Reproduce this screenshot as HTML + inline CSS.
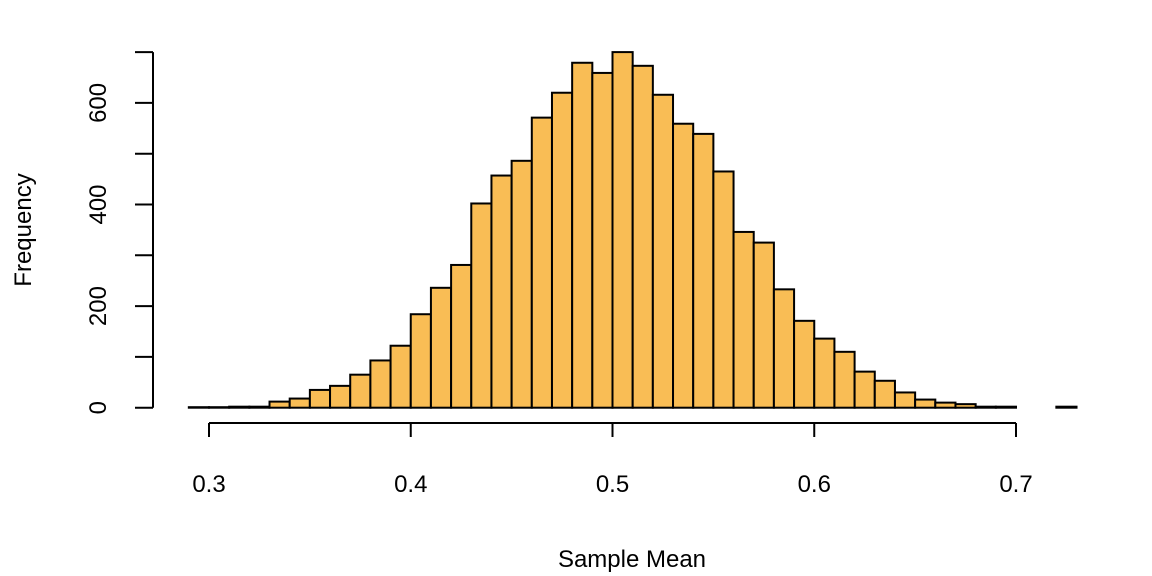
<!DOCTYPE html>
<html><head><meta charset="utf-8"><style>
html,body{margin:0;padding:0;background:#fff;}
svg{display:block;font-family:"Liberation Sans",Arial,sans-serif;}
</style></head><body>
<svg id="chart" width="1152" height="576" viewBox="0 0 1152 576">
<g id="bars"></g>
<g id="axes"></g>
<text x="632" y="567" font-size="24" text-anchor="middle">Sample Mean</text>
<text transform="translate(31,230) rotate(-90)" font-size="24" text-anchor="middle">Frequency</text>
</svg>
<script>
const binStart = 0.29;
const binWidth = 0.01;
const counts = [1,1,2,2,12,18,35,43,65,93,122,184,236,281,402,457,486,571,620,679,659,700,673,616,559,539,465,346,325,233,171,136,110,71,53,30,16,10,7,2,2,0,0,2];
const xTicks = [0.3,0.4,0.5,0.6,0.7];
const xTickLabels = ["0.3","0.4","0.5","0.6","0.7"];
const yTicks = [0,100,200,300,400,500,600,700];
const yTickLabels = ["0","","200","","400","","600",""];

const NS = "http://www.w3.org/2000/svg";
function xs(v){ return 209 + (v - 0.3) * 2017.5; }
function ys(v){ return 407.7 - v * 0.508; }
function mk(tag, attrs, parent){
  const e = document.createElementNS(NS, tag);
  for (const k in attrs) e.setAttribute(k, attrs[k]);
  parent.appendChild(e);
  return e;
}
const bars = document.getElementById('bars');
counts.forEach((c, i) => {
  const x0 = xs(binStart + i * binWidth), x1 = xs(binStart + (i + 1) * binWidth);
  const r = mk('rect', {x: x0, y: ys(c), width: x1 - x0, height: ys(0) - ys(c), fill: '#F9BD55', stroke: '#000', 'stroke-width': 2}, bars);
  
  
});
const axes = document.getElementById('axes');
const xl = mk('line', {x1: xs(xTicks[0]), x2: xs(xTicks[xTicks.length - 1]), y1: 423, y2: 423, stroke: '#000', 'stroke-width': 2}, axes);


xTicks.forEach((t, i) => {
  const tk = mk('line', {x1: xs(t), x2: xs(t), y1: 423, y2: 437, stroke: '#000', 'stroke-width': 2}, axes);
  
  
  const tx = mk('text', {x: xs(t), y: 492, 'font-size': 24, 'text-anchor': 'middle'}, axes);
  
  
  tx.textContent = xTickLabels[i];
});
const yl = mk('line', {x1: 153, x2: 153, y1: ys(yTicks[0]), y2: ys(yTicks[yTicks.length - 1]), stroke: '#000', 'stroke-width': 2}, axes);


yTicks.forEach((t, i) => {
  const tk = mk('line', {x1: 135, x2: 153, y1: ys(t), y2: ys(t), stroke: '#000', 'stroke-width': 2}, axes);
  
  
  if (yTickLabels[i]) {
    const tx = mk('text', {transform: 'translate(106,' + ys(t) + ') rotate(-90)', 'font-size': 24, 'text-anchor': 'middle'}, axes);
    
    
    tx.textContent = yTickLabels[i];
  }
});
</script>
</body></html>
